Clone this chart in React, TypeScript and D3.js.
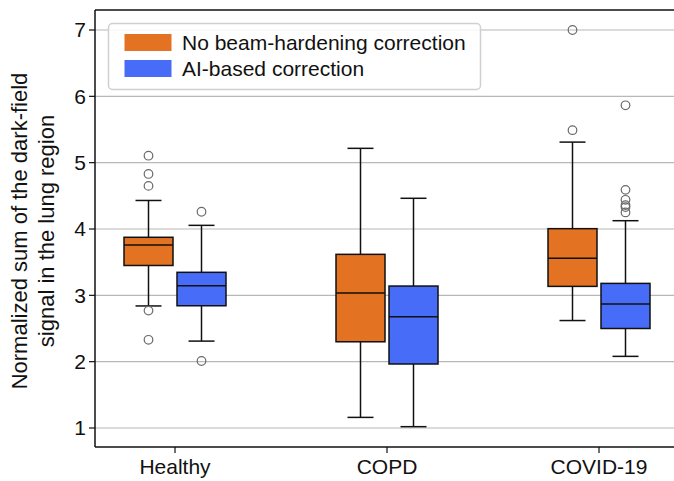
import React from "react";
import * as d3 from "d3";

const categories = ["Healthy", "COPD", "COVID-19"];
const seriesNames = ["No beam-hardening correction", "AI-based correction"];
const seriesColors = ["#e37222", "#466cf8"];
const yTicks = [1, 2, 3, 4, 5, 6, 7];

// per category: [whiskerLow, q1, median, q3, whiskerHigh]
const noCorrStats = [
  [2.84, 3.45, 3.76, 3.875, 4.43],
  [1.16, 2.3, 3.035, 3.618, 5.216],
  [2.62, 3.135, 3.56, 4.005, 5.31],
];
const aiCorrStats = [
  [2.31, 2.843, 3.145, 3.347, 4.055],
  [1.02, 1.965, 2.678, 3.14, 4.463],
  [2.08, 2.5, 2.87, 3.18, 4.125],
];
const noCorrOutliers = [
  [5.105, 4.83, 4.65, 2.77, 2.33],
  [],
  [7.0, 5.49],
];
const aiCorrOutliers = [
  [4.26, 2.01],
  [],
  [5.865, 4.59, 4.44, 4.36, 4.33, 4.25],
];

const W = 674;
const H = 481;
const left = 95;
const right = 700;
const top = 10;
const bottom = 447;
const font = "'Liberation Sans', Arial, sans-serif";
const fs = 21;

export default function App() {
  const x = d3.scalePoint<string>().domain(categories).range([175, 599]);
  const y = d3.scaleLinear().domain([1, 7]).range([428, 30]);
  const boxW = 49;
  const offsets = [-26.5, 26.5];
  const capW = 26;
  const allStats = [noCorrStats, aiCorrStats];
  const allOut = [noCorrOutliers, aiCorrOutliers];

  return (
    <svg
      width={W}
      height={H}
      style={{ position: "absolute", left: 0, top: 0, fontFamily: font, overflow: "hidden" }}
    >
      <rect x={0} y={0} width={W} height={H} fill="#fff" />
      {/* grid */}
      {yTicks.map((t) => (
        <line key={"g" + t} x1={left} x2={right} y1={y(t)} y2={y(t)} stroke="#b8b8b8" strokeWidth={1.2} />
      ))}
      {/* boxes */}
      {categories.map((c, ci) =>
        allStats.map((stats, si) => {
          const [lo, q1, med, q3, hi] = stats[ci];
          const cx = (x(c) as number) + offsets[si];
          return (
            <g key={c + si}>
              <line x1={cx} x2={cx} y1={y(q3)} y2={y(hi)} stroke="#111" strokeWidth={1.5} />
              <line x1={cx} x2={cx} y1={y(q1)} y2={y(lo)} stroke="#111" strokeWidth={1.5} />
              <line x1={cx - capW / 2} x2={cx + capW / 2} y1={y(hi)} y2={y(hi)} stroke="#111" strokeWidth={1.5} />
              <line x1={cx - capW / 2} x2={cx + capW / 2} y1={y(lo)} y2={y(lo)} stroke="#111" strokeWidth={1.5} />
              <rect
                x={cx - boxW / 2}
                y={y(q3)}
                width={boxW}
                height={y(q1) - y(q3)}
                fill={seriesColors[si]}
                stroke="#111"
                strokeWidth={1.5}
              />
              <line x1={cx - boxW / 2} x2={cx + boxW / 2} y1={y(med)} y2={y(med)} stroke="#111" strokeWidth={1.5} />
              {allOut[si][ci].map((v, oi) => (
                <circle key={oi} cx={cx} cy={y(v)} r={4.3} fill="none" stroke="#6a6a6a" strokeWidth={1.2} />
              ))}
            </g>
          );
        })
      )}
      {/* spines */}
      <line x1={left} x2={left} y1={top} y2={bottom} stroke="#111" strokeWidth={1.5} />
      <line x1={left} x2={right} y1={bottom} y2={bottom} stroke="#111" strokeWidth={1.5} />
      <line x1={left} x2={right} y1={top} y2={top} stroke="#111" strokeWidth={1.5} />
      {/* y ticks */}
      {yTicks.map((t) => (
        <g key={"t" + t}>
          <line x1={left - 6} x2={left} y1={y(t)} y2={y(t)} stroke="#111" strokeWidth={1.2} />
          <text x={left - 9} y={y(t)} dy="0.35em" textAnchor="end" fontSize={fs} fill="#111">
            {t}
          </text>
        </g>
      ))}
      {/* x ticks */}
      {categories.map((c) => (
        <g key={"x" + c}>
          <line x1={x(c)} x2={x(c)} y1={bottom} y2={bottom + 6} stroke="#111" strokeWidth={1.2} />
          <text x={x(c)} y={bottom + 27} textAnchor="middle" fontSize={fs} fill="#111">
            {c}
          </text>
        </g>
      ))}
      {/* y label */}
      <g transform={`translate(34,231) rotate(-90)`}>
        <text x={0} y={-7} textAnchor="middle" fontSize={22} fill="#111">
          Normalized sum of the dark-field
        </text>
        <text x={0} y={20} textAnchor="middle" fontSize={22} fill="#111">
          signal in the lung region
        </text>
      </g>
      {/* legend */}
      <rect x={108.5} y={23.5} width={372} height={66} rx={4} fill="#fff" fillOpacity={0.85} stroke="#d0d0d0" strokeWidth={1.5} />
      {seriesNames.map((n, i) => (
        <g key={n}>
          <rect x={124.5} y={34 + i * 26} width={47} height={17} fill={seriesColors[i]} />
          <text x={182} y={42.5 + i * 26} dy="0.35em" fontSize={fs} fill="#111">
            {n}
          </text>
        </g>
      ))}
    </svg>
  );
}
